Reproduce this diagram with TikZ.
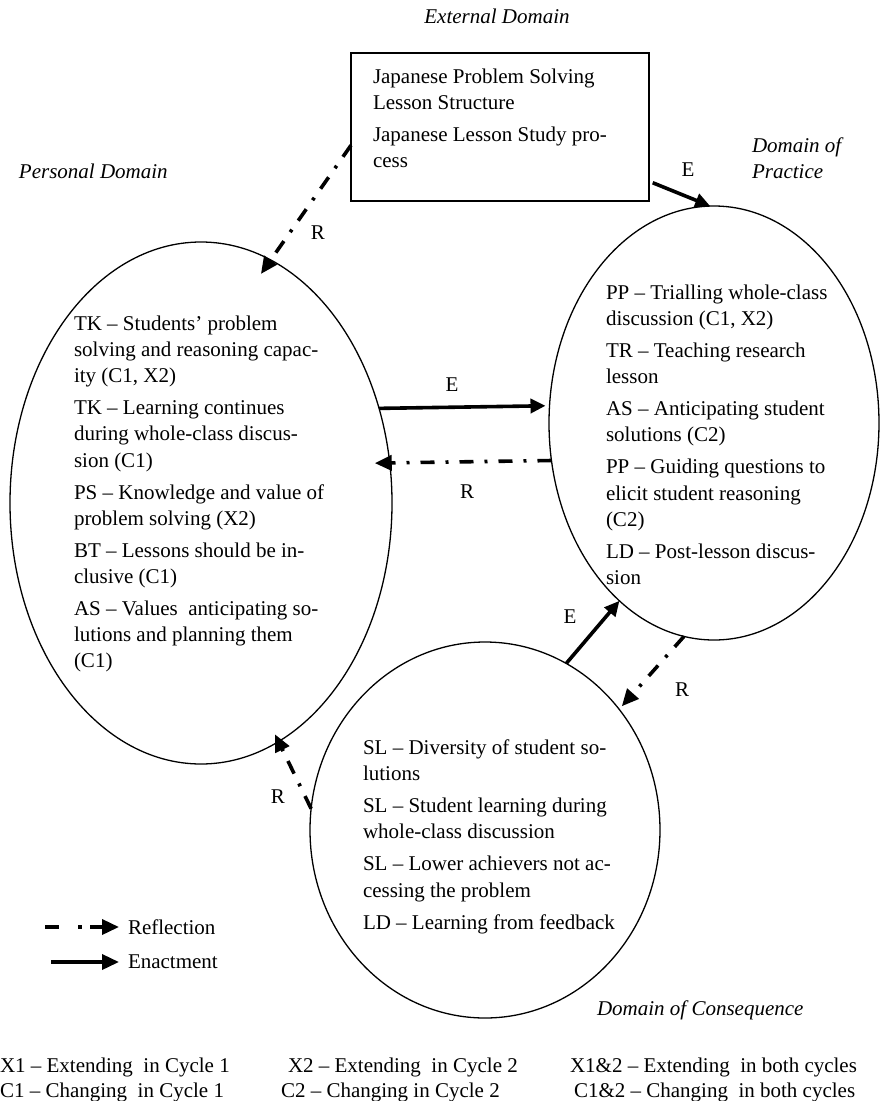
\documentclass[tikz,border=0pt]{standalone}
\usepackage{fontspec}
\setmainfont{Liberation Serif}
\usetikzlibrary{shapes.geometric,arrows.meta}

\begin{document}
\begin{tikzpicture}[x=1pt, y=1pt,
  every node/.style={inner sep=0pt, outer sep=0pt},
  region/.style={draw, ellipse, line width=1.3pt},
  body/.style={anchor=north west, align=left, font=\fontsize{21}{26.2}\selectfont},
  title/.style={font=\itshape\fontsize{21}{26.2}\selectfont, align=left},
  tag/.style={font=\fontsize{21}{26.2}\selectfont},
  enact/.style={line width=3.6pt, -{Triangle[length=15pt,width=14pt]}},
  reflect/.style={line width=3.6pt, dash pattern=on 14pt off 11pt on 3pt off 11pt,
                  -{Triangle[length=17pt,width=15pt]}},
]
\useasboundingbox (0,0) rectangle (880,-1101);

% the four domains
\node[draw, line width=1.4pt, minimum width=298pt, minimum height=148pt] (ext) at (500,-127) {};
\node[region, minimum width=382pt, minimum height=522pt] (pers) at (201,-503) {};
\node[region, minimum width=330pt, minimum height=434pt] (prac) at (714,-423) {};
\node[region, minimum width=350pt, minimum height=376pt] (cons) at (485,-830) {};

% domain titles
\node[title, anchor=base] (extTitle) at (497,-23) {External Domain};
\node[title, anchor=base west] (persTitle) at (19,-178) {Personal Domain};
\node[title, anchor=north west] (pracTitle) at (752,-137.7) {Domain of\\Practice};
\node[title, anchor=base west] (consTitle) at (597,-1015) {Domain of Consequence};

% contents of each domain
\node[body] (extText) at (373,-68.7) {Japanese Problem Solving\\
Lesson Structure\\[5.8pt]
Japanese Lesson Study pro-\\
cess};

\node[body] (persText) at (74,-315.7) {TK – Students’ problem\\
solving and reasoning capac-\\
ity (C1, X2)\\[5.8pt]
TK – Learning continues\\
during whole-class discus-\\
sion (C1)\\[5.8pt]
PS – Knowledge and value of\\
problem solving (X2)\\[5.8pt]
BT – Lessons should be in-\\
clusive (C1)\\[5.8pt]
AS – Values\ \ anticipating so-\\
lutions and planning them\\
(C1)};

\node[body] (pracText) at (606,-284.7) {PP – Trialling whole-class\\
discussion (C1, X2)\\[5.8pt]
TR – Teaching research\\
lesson\\[5.8pt]
AS – Anticipating student\\
solutions (C2)\\[5.8pt]
PP – Guiding questions to\\
elicit student reasoning\\
(C2)\\[5.8pt]
LD – Post-lesson discus-\\
sion};

\node[body] (consText) at (363,-739.7) {SL – Diversity of student so-\\
lutions\\[5.8pt]
SL – Student learning during\\
whole-class discussion\\[5.8pt]
SL – Lower achievers not ac-\\
cessing the problem\\[5.8pt]
LD – Learning from feedback};

% reflection and enactment links
\draw[reflect, shorten >=-17pt] (ext.187.3) -- (pers.74.9);
\draw[enact, shorten <=4pt] (ext.340.4) -- (prac.91);
\draw[enact, shorten >=4pt] (pers.28.5) -- (prac.174.1);
\draw[reflect, shorten >=-15pt] (prac.193.85) -- (pers.12);
\draw[enact] (cons.64.1) -- (prac.242.8);
\draw[reflect, shorten >=4pt] (prac.262.8) -- (cons.42.2);
\draw[reflect, shorten >=-8pt] (cons.173.4) -- (pers.288.5);

\node[tag] (lR0) at (318,-233) {R};
\node[tag] (lE0) at (688,-170) {E};
\node[tag] (lE1) at (452,-385) {E};
\node[tag] (lR1) at (467,-492) {R};
\node[tag] (lE2) at (570,-617) {E};
\node[tag] (lR2) at (682,-690) {R};
\node[tag] (lR3) at (278,-797) {R};

% key to the arrows
\node[tag, anchor=west] (keyR) at (128,-927) {Reflection};
\node[tag, anchor=west] (keyE) at (128,-962) {Enactment};
\coordinate (keyRstart) at (45,-927);
\coordinate (keyEstart) at (51,-962);
\draw[reflect, dash pattern=on 14pt off 19pt on 4pt off 8pt on 60pt, shorten >=9pt] (keyRstart) -- (keyR.west);
\draw[enact, -{Triangle[length=17pt,width=15pt]}, shorten >=9pt] (keyEstart) -- (keyE.west);

% key to the codes
\node[tag, anchor=base west] (kX1) at (0,-1072) {X1 – Extending\ \ in Cycle 1};
\node[tag, anchor=base west] (kC1) at (0,-1097.5) {C1 – Changing\ \ in Cycle 1};
\node[tag, anchor=base west] (kX2) at (288,-1072) {X2 – Extending\ \ in Cycle 2};
\node[tag, anchor=base west] (kC2) at (281,-1097.5) {C2 – Changing in Cycle 2};
\node[tag, anchor=base west] (kX12) at (570,-1072) {X1\&2 – Extending\ \ in both cycles};
\node[tag, anchor=base west] (kC12) at (574,-1097.5) {C1\&2 – Changing\ \ in both cycles};
\end{tikzpicture}
\end{document}
